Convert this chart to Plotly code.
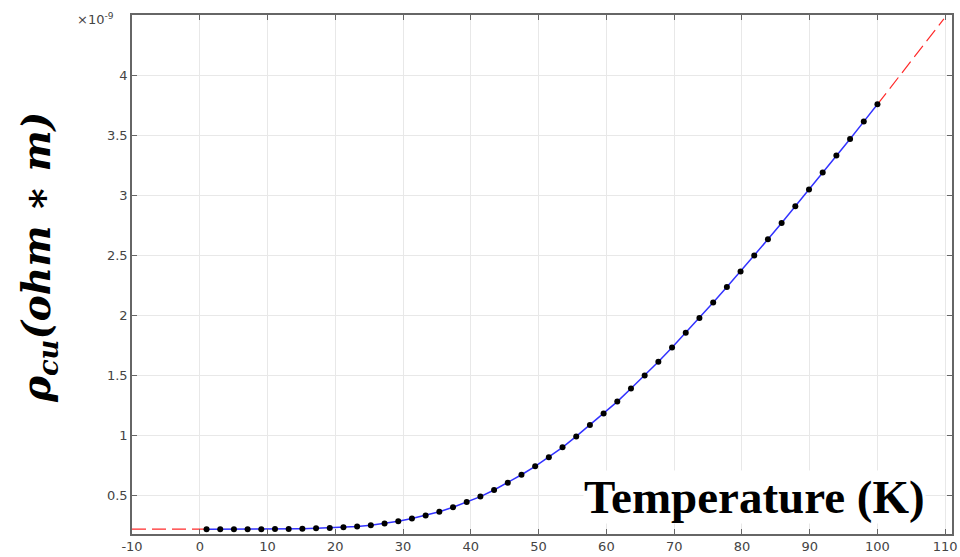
import plotly.graph_objects as go

# Temperature (K) of the sampled points
temperature = [1.00, 3.02, 5.04, 7.06, 9.08, 11.10, 13.12, 15.14, 17.16, 19.18,
               21.20, 23.22, 25.24, 27.27, 29.29, 31.31, 33.33, 35.35, 37.37, 39.39,
               41.41, 43.43, 45.45, 47.47, 49.49, 51.51, 53.53, 55.55, 57.57, 59.59,
               61.61, 63.63, 65.65, 67.67, 69.69, 71.71, 73.73, 75.76, 77.78, 79.80,
               81.82, 83.84, 85.86, 87.88, 89.90, 91.92, 93.94, 95.96, 97.98, 100.00]

# Resistivity in units of 1e-9 ohm*m
resistivity = [0.215, 0.215, 0.215, 0.215, 0.215, 0.216, 0.217, 0.219, 0.222, 0.226,
               0.231, 0.238, 0.248, 0.263, 0.282, 0.304, 0.330, 0.361, 0.398, 0.441,
               0.487, 0.542, 0.603, 0.669, 0.739, 0.815, 0.898, 0.989, 1.083, 1.179,
               1.279, 1.389, 1.497, 1.611, 1.731, 1.853, 1.977, 2.106, 2.234, 2.365,
               2.498, 2.632, 2.769, 2.908, 3.047, 3.189, 3.331, 3.469, 3.614, 3.758]

# Extrapolation segments (red dashed)
extrap_low_t = [-10, 1.0]
extrap_low_r = [0.215, 0.215]
extrap_high_t = [100.0, 109.8]
extrap_high_r = [3.758, 4.47]

x_ticks = [-10, 0, 10, 20, 30, 40, 50, 60, 70, 80, 90, 100, 110]
x_tick_labels = ["-10", "0", "10", "20", "30", "40", "50", "60", "70", "80", "90", "100", "110"]
y_ticks = [0.5, 1, 1.5, 2, 2.5, 3, 3.5, 4]
y_tick_labels = ["0.5", "1", "1.5", "2", "2.5", "3", "3.5", "4"]

fig = go.Figure()

red = "rgba(255,30,30,0.95)"
fig.add_trace(go.Scatter(x=extrap_low_t, y=extrap_low_r, mode="lines",
                         line=dict(color=red, width=1.2, dash="14px,6px"),
                         showlegend=False, hoverinfo="skip"))
fig.add_trace(go.Scatter(x=extrap_high_t, y=extrap_high_r, mode="lines",
                         line=dict(color=red, width=1.2, dash="14px,6px"),
                         showlegend=False, hoverinfo="skip"))
fig.add_trace(go.Scatter(x=temperature, y=resistivity, mode="lines+markers",
                         line=dict(color="rgb(50,50,255)", width=1.5),
                         marker=dict(color="black", size=6, symbol="circle"),
                         showlegend=False))

W, H = 960, 557
PL, PR, PT, PB = 132, 952, 15, 534   # plot-area edges in pixels
L, T, R, B = PL, PT, W - PR, H - PB
pw = PR - PL
ph = PB - PT


def px(xp):
    return (xp - PL) / pw


def py(yp):
    return (PB - yp) / ph


axis_common = dict(
    showline=True, linecolor="#666666", linewidth=1.5, mirror="allticks",
    ticks="inside", ticklen=5, tickcolor="#666666", tickwidth=1.2,
    showgrid=True, gridcolor="#e8e8e8", gridwidth=1, zeroline=False,
    tickfont=dict(family="DejaVu Sans", size=13, color="#444444"),
    ticklabeloverflow="allow",
)

fig.update_layout(
    width=W, height=H,
    margin=dict(l=L, r=R, t=T, b=B, autoexpand=False),
    paper_bgcolor="white", plot_bgcolor="white",
    xaxis=dict(range=[-10, 111], tickvals=x_ticks, ticktext=x_tick_labels, **axis_common),
    yaxis=dict(range=[0.175, 4.503], tickvals=y_ticks, ticktext=y_tick_labels, **axis_common),
    annotations=[
        dict(text="×10<sup>-9</sup>", xref="paper", yref="paper",
             x=px(116), y=py(19), xanchor="right", yanchor="middle",
             showarrow=False, font=dict(family="DejaVu Sans", size=13, color="#444444")),
        dict(text="<b><i>ρ<sub>cu</sub>(ohm ∗ m)</i></b>", xref="paper", yref="paper",
             x=px(38), y=py(258), xanchor="center", yanchor="middle",
             textangle=-90, showarrow=False,
             font=dict(family="DejaVu Serif", size=39, color="black")),
        dict(text="<b>Temperature (K)</b>", xref="paper", yref="paper",
             x=px(583), y=py(497), xanchor="left", yanchor="middle",
             showarrow=False, bgcolor="white", borderpad=0,
             font=dict(family="Liberation Serif", size=47, color="black")),
    ],
)

fig.write_html(
    "out.html",
    config={"displayModeBar": False},
    post_script="document.body.style.margin='0';document.body.style.overflow='hidden';",
)
